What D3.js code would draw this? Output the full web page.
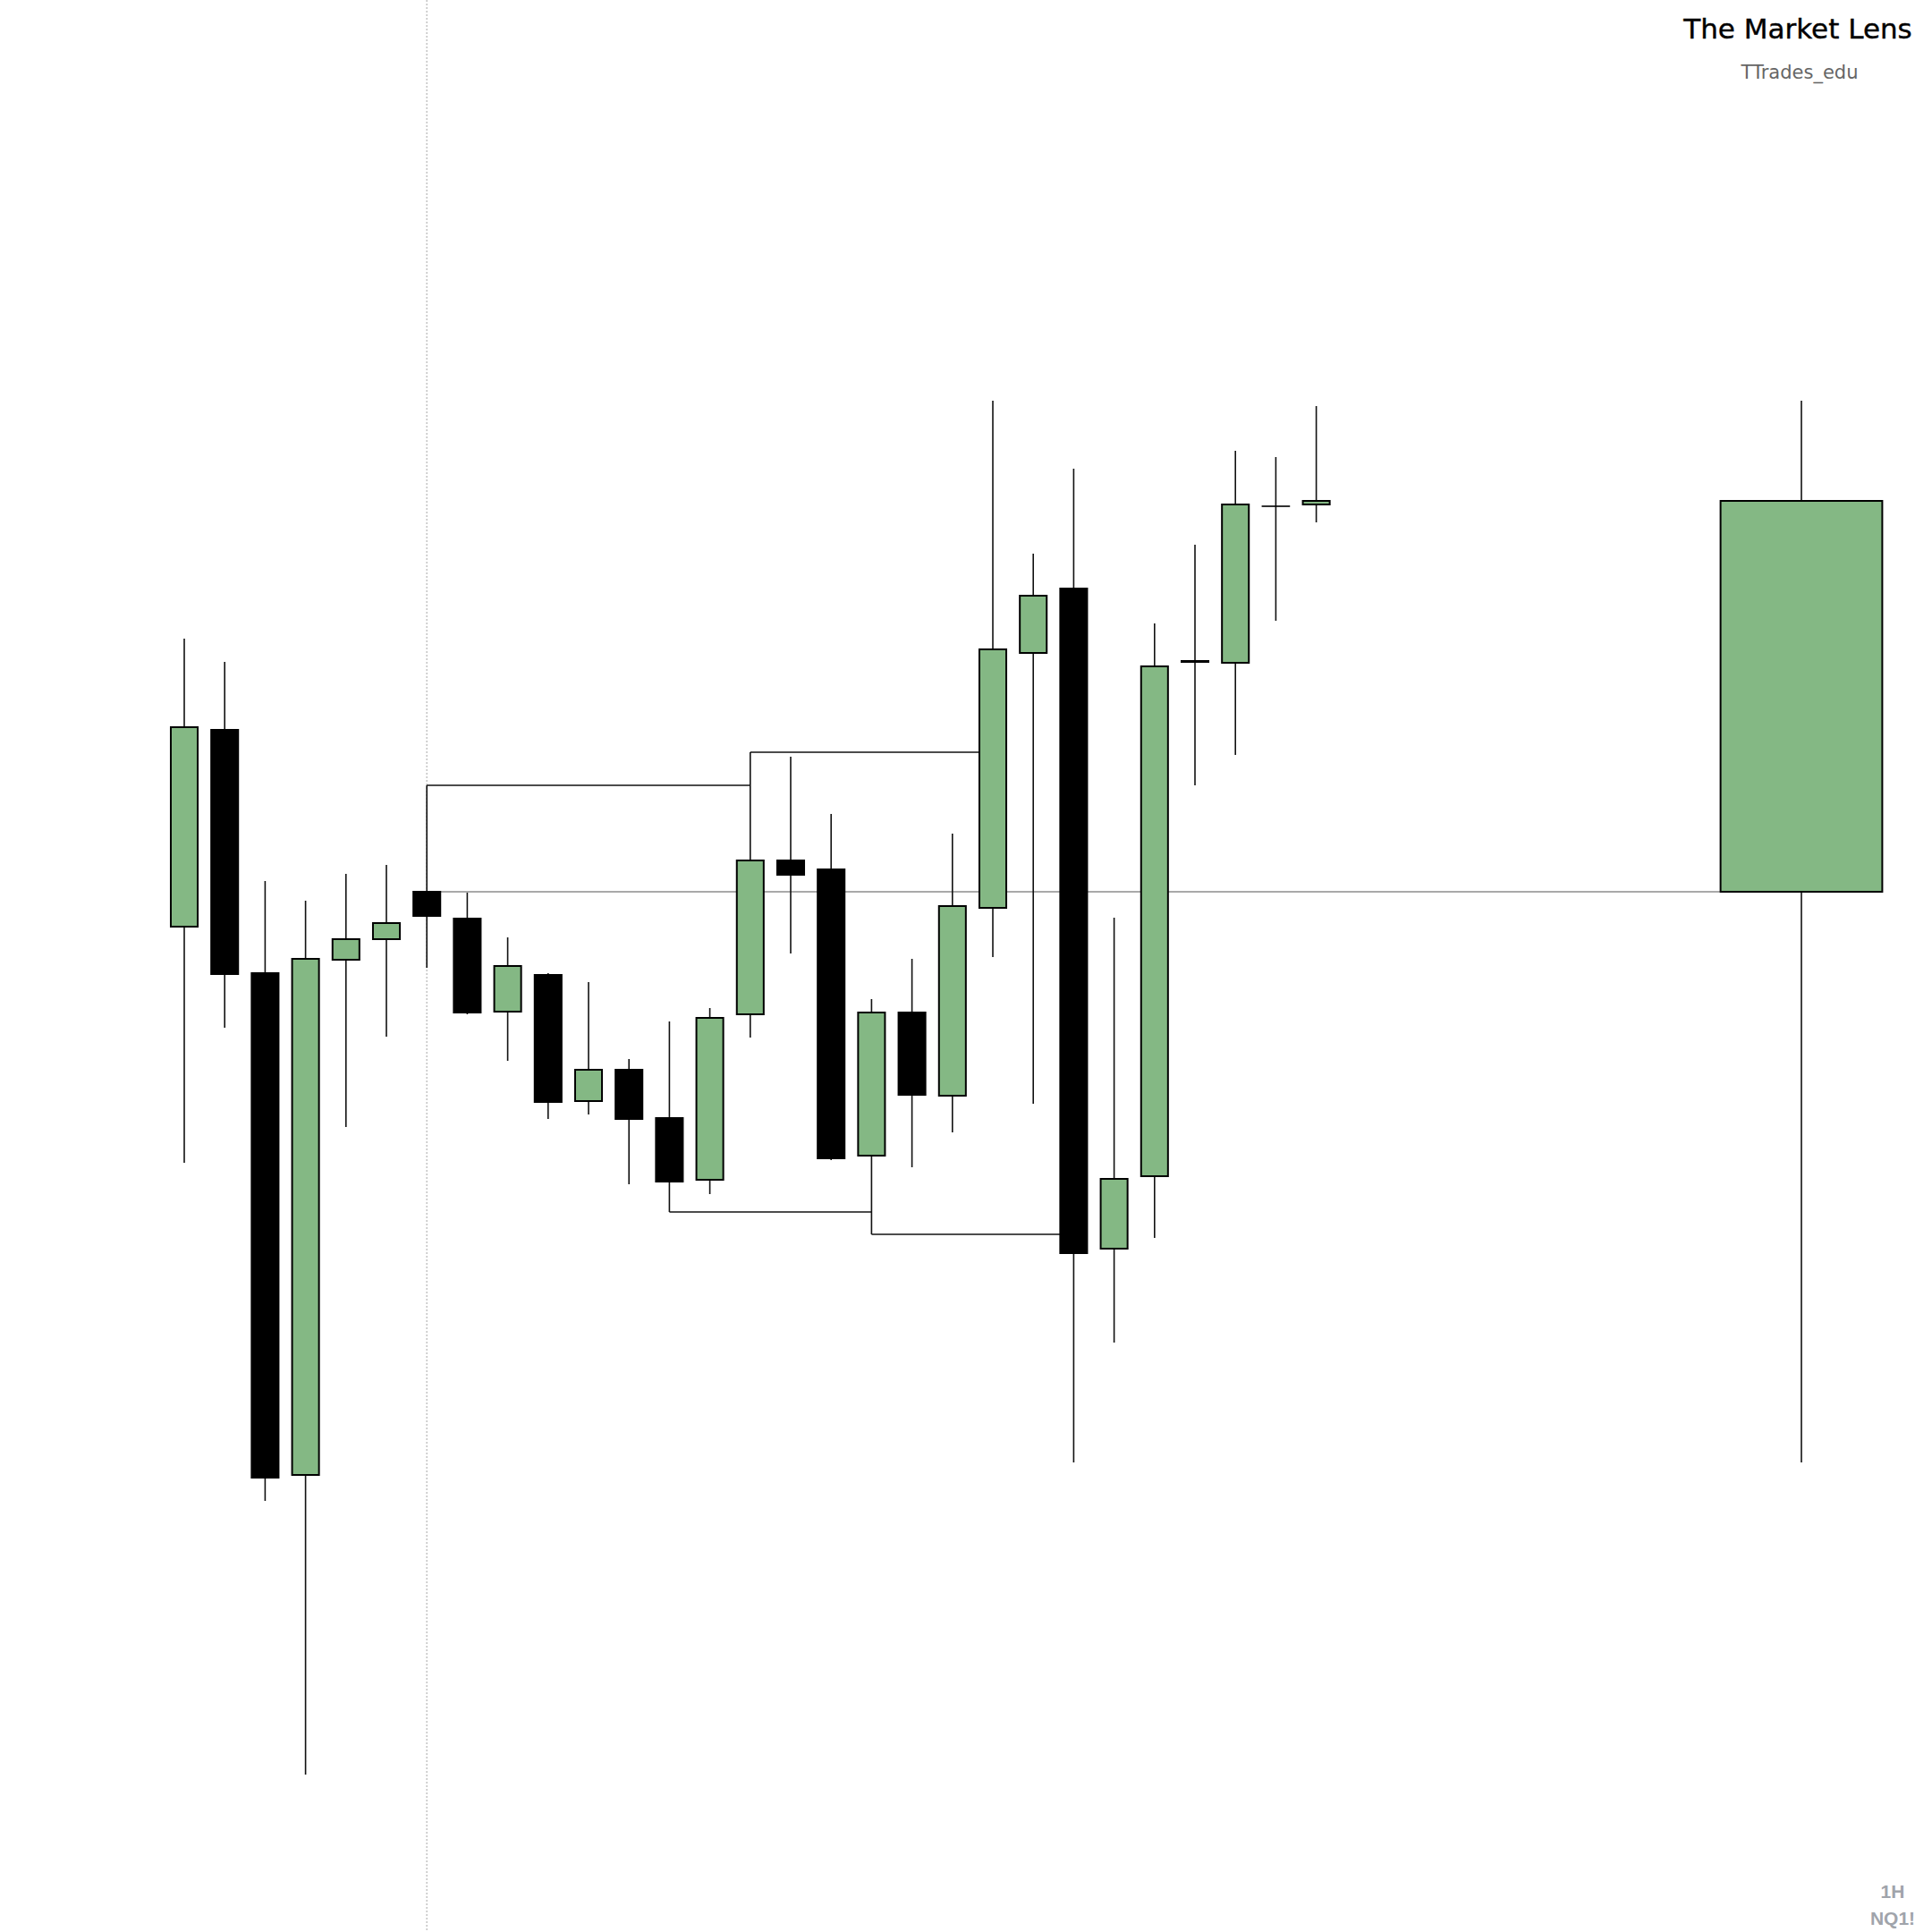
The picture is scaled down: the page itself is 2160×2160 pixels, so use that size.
<!DOCTYPE html>
<html>
<head>
<meta charset="utf-8">
<script src="https://cdn.jsdelivr.net/npm/d3@7/dist/d3.min.js"></script>
<style>
  body { margin: 0; background: #ffffff; }
  svg { display: block; }
</style>
</head>
<body>
<div id="chart"></div>
<script>
// NQ1! hourly candles
var opens  = [18011, 18066, 17998, 17857.75, 18001.75, 18007.5, 18020.75, 18013.25, 17987.25, 17997.5,
              17962.25, 17971, 17957.5, 17940.25, 17986.5, 18029.5, 18027, 17947, 17987, 17963.75,
              18016.25, 18087.5, 18105.5, 17921, 17941.25, 18085.25, 18084.75, 18128.5, 18129]
var highs  = [18091.5, 18085, 18023.75, 18018.25, 18025.75, 18028.25, 18050.5, 18020.5, 18008, 17998,
              17995.5, 17974, 17984.5, 17988.25, 18059.75, 18058.5, 18042.5, 17990.75, 18002, 18037,
              18158, 18115.25, 18139, 18013.5, 18095.75, 18117.75, 18144, 18142.25, 18156.5]
var lows   = [17945, 17982.75, 17850.5, 17774, 17955, 17980.25, 17999.5, 17986.5, 17973.5, 17957.25,
              17958.5, 17939, 17931.25, 17936.25, 17980, 18003.5, 17945.75, 17925, 17943.75, 17953.5,
              18002.5, 17961.5, 17861.25, 17894.75, 17924, 18050.5, 18059, 18096.5, 18124]
var closes = [18066.75, 17997.75, 17857, 18002, 18007.5, 18012, 18014, 17987, 18000, 17962,
              17971, 17957.25, 17939.75, 17985.5, 18029.5, 18025.5, 17946.25, 17987, 17964, 18016.75,
              18088.5, 18103.5, 17919.75, 17940.5, 18083.75, 18085, 18129, 18128.5, 18130]

// swing points that get a line until price trades through them
var swingHighs = [6, 14]
var swingLows = [12, 17]

// higher timeframe candle starts at this bar and is drawn in this slot
var htfStart = 6
var htfSlot = 40
var htfSpan = 4

var title = "The Market Lens"
var subtitle = "TTrades_edu"
var timeframe = "1H"
var symbol = "NQ1!"

var width = 2160
var height = 2160
var green = "#84b884"

var candles = opens.map(function(o, i) {
    return { i: i, o: o, h: highs[i], l: lows[i], c: closes[i] }
})

var x = d3.scaleLinear().domain([0, 40]).range([206, 2014])
var y = d3.scaleLinear().domain([17730, 18270]).range([height, 0])
var step = x(1) - x(0)
var bw = step * 0.665

var svg = d3.select("#chart")
    .append("svg")
    .attr("width", width)
    .attr("height", height)

// dotted marker where the higher timeframe candle opens
svg.append("line")
    .attr("x1", x(htfStart)).attr("x2", x(htfStart))
    .attr("y1", 0).attr("y2", height)
    .attr("stroke", "#c4c4c4")
    .attr("stroke-width", 1.5)
    .attr("stroke-dasharray", "2,2")

// higher timeframe candle built from the hourly ones
var part = candles.slice(htfStart)
var htf = {
    o: part[0].o,
    h: d3.max(part, function(d) { return d.h }),
    l: d3.min(part, function(d) { return d.l }),
    c: part[part.length - 1].c
}

// open level of the higher timeframe candle
svg.append("line")
    .attr("x1", x(htfStart)).attr("x2", x(htfSlot))
    .attr("y1", y(htf.o)).attr("y2", y(htf.o))
    .attr("stroke", "#8c8c8c")
    .attr("stroke-width", 1.6)

// swing lines: run right until a later candle trades through
var segs = []
swingHighs.forEach(function(s) {
    var lvl = candles[s].h
    var end = candles.findIndex(function(d) { return d.i > s && d.h > lvl })
    segs.push({ a: s, b: end, p: lvl })
})
swingLows.forEach(function(s) {
    var lvl = candles[s].l
    var end = candles.findIndex(function(d) { return d.i > s && d.l < lvl })
    segs.push({ a: s, b: end, p: lvl })
})
svg.selectAll(".swing")
    .data(segs)
    .enter()
    .append("line")
    .attr("class", "swing")
    .attr("x1", function(d) { return x(d.a) })
    .attr("x2", function(d) { return x(d.b) })
    .attr("y1", function(d) { return y(d.p) })
    .attr("y2", function(d) { return y(d.p) })
    .attr("stroke", "#111")
    .attr("stroke-width", 1.6)

// wicks
svg.selectAll(".wick")
    .data(candles)
    .enter()
    .append("line")
    .attr("class", "wick")
    .attr("x1", function(d) { return x(d.i) })
    .attr("x2", function(d) { return x(d.i) })
    .attr("y1", function(d) { return y(d.h) })
    .attr("y2", function(d) { return y(d.l) })
    .attr("stroke", "#111")
    .attr("stroke-width", 1.6)

// bodies (a doji still needs a visible line, so keep a hair of height)
svg.selectAll(".body")
    .data(candles)
    .enter()
    .append("rect")
    .attr("class", "body")
    .attr("x", function(d) { return x(d.i) - bw / 2 })
    .attr("width", bw)
    .attr("y", function(d) { return y(Math.max(d.o, d.c)) })
    .attr("height", function(d) { return Math.max(Math.abs(y(d.o) - y(d.c)), 0.01) })
    .attr("fill", function(d) { return d.c >= d.o ? green : "#000" })
    .attr("stroke", "#000")
    .attr("stroke-width", function(d) { return d.c == d.o ? 1.6 : 2 })

// the big candle on the right
var hw = step * htfSpan
svg.append("line")
    .attr("x1", x(htfSlot)).attr("x2", x(htfSlot))
    .attr("y1", y(htf.h)).attr("y2", y(htf.l))
    .attr("stroke", "#111")
    .attr("stroke-width", 1.6)
svg.append("rect")
    .attr("x", x(htfSlot) - hw / 2)
    .attr("width", hw)
    .attr("y", y(Math.max(htf.o, htf.c)))
    .attr("height", Math.abs(y(htf.o) - y(htf.c)))
    .attr("fill", htf.c >= htf.o ? green : "#000")
    .attr("stroke", "#000")
    .attr("stroke-width", 2)

// texts
svg.append("text")
    .attr("x", 2010).attr("y", 43)
    .attr("text-anchor", "middle")
    .style("font-family", "DejaVu Sans")
    .style("font-size", "31px")
    .style("stroke", "#000")
    .style("stroke-width", 0.4)
    .attr("fill", "#000")
    .text(title)
svg.append("text")
    .attr("x", 2012).attr("y", 88)
    .attr("text-anchor", "middle")
    .style("font-family", "DejaVu Sans")
    .style("font-size", "21px")
    .attr("fill", "#666")
    .text(subtitle)
svg.append("text")
    .attr("x", 2116).attr("y", 2122)
    .attr("text-anchor", "middle")
    .style("font-family", "Liberation Sans")
    .style("font-size", "21px")
    .style("font-weight", "bold")
    .attr("fill", "#a0a4ab")
    .text(timeframe)
svg.append("text")
    .attr("x", 2116).attr("y", 2152)
    .attr("text-anchor", "middle")
    .style("font-family", "Liberation Sans")
    .style("font-size", "21px")
    .style("font-weight", "bold")
    .attr("fill", "#a0a4ab")
    .text(symbol)
</script>
</body>
</html>
